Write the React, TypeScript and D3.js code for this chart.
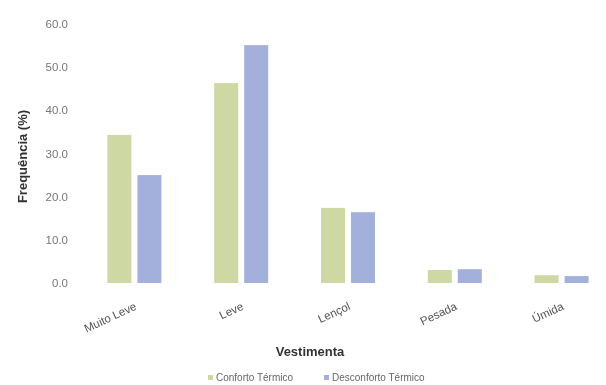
import React from "react";
import * as d3 from "d3";

const categories = ["Muito Leve", "Leve", "Lençol", "Pesada", "Úmida"];
const conforto = [34.3, 46.3, 17.4, 3.0, 1.8];
const desconforto = [25.0, 55.1, 16.4, 3.2, 1.6];
const yTicks = [0, 10, 20, 30, 40, 50, 60];
const seriesNames = ["Conforto Térmico", "Desconforto Térmico"];
const seriesColors = ["#cdd8a2", "#a3b0dc"];

const W = 606;
const H = 385;

export default function App() {
  const x = d3.scaleBand<string>().domain(categories).range([81, 615]).paddingInner(0).paddingOuter(0);
  const y = d3.scaleLinear().domain([0, 60]).range([283, 24]);
  const barW = 24;
  const gap = 6;
  const series = [conforto, desconforto];
  const font = "'Liberation Sans', Arial, sans-serif";

  return (
    <svg width={W} height={H} style={{ position: "absolute", left: 0, top: 0, background: "#fff" }} fontFamily={font}>
      <defs>
        <filter id="soft" x="-5%" y="-5%" width="110%" height="110%">
          <feGaussianBlur stdDeviation="0.6" />
        </filter>
      </defs>
      <g filter="url(#soft)">
        {yTicks.map((t) => (
          <text key={t} x={68} y={y(t)} dy="0.35em" textAnchor="end" fontSize={11.5} fill="#777">
            {t.toFixed(1)}
          </text>
        ))}
        {categories.map((c, i) => {
          const cx = (x(c) ?? 0) + x.bandwidth() / 2;
          return (
            <g key={c}>
              {series.map((s, k) => {
                const left = k === 0 ? cx - gap / 2 - barW : cx + gap / 2;
                return (
                  <rect
                    key={k}
                    x={left}
                    y={y(s[i])}
                    width={barW}
                    height={y(0) - y(s[i])}
                    fill={seriesColors[k]}
                  />
                );
              })}
              <text
                transform={`translate(${cx + 3},${y(0) + 26}) rotate(-25)`}
                textAnchor="end"
                fontSize={11.5}
                fill="#555"
              >
                {c}
              </text>
            </g>
          );
        })}
        <text
          transform={`translate(27,${(y(0) + y(60)) / 2 + 3}) rotate(-90)`}
          textAnchor="middle"
          fontSize={13}
          fontWeight="bold"
          fill="#333"
        >
          Frequência (%)
        </text>
        <text x={310} y={356} textAnchor="middle" fontSize={13} fontWeight="bold" fill="#333">
          Vestimenta
        </text>
        {seriesNames.map((n, k) => {
          const lx = k === 0 ? 208 : 324;
          return (
            <g key={n}>
              <rect x={lx} y={375} width={5} height={5} fill={seriesColors[k]} />
              <text x={lx + 8} y={381} fontSize={10} fill="#666">
                {n}
              </text>
            </g>
          );
        })}
      </g>
    </svg>
  );
}
